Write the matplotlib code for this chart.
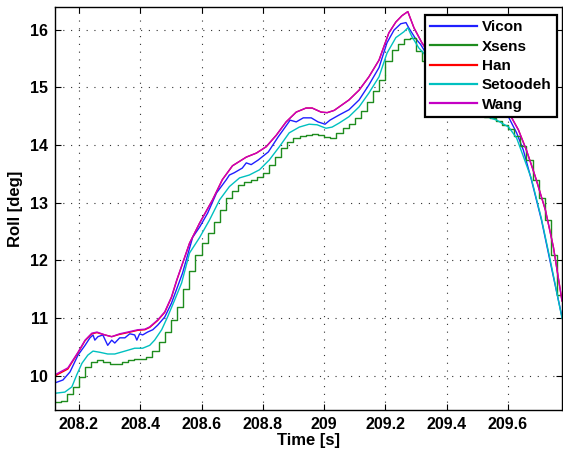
import matplotlib
matplotlib.use("Agg")
import matplotlib.pyplot as plt

plt.rcParams['font.family'] = ['Liberation Sans', 'DejaVu Sans']

# ---------------- data ----------------
han_t = [208.122, 208.164, 208.197, 208.220, 208.242, 208.259, 208.285, 208.307,
         208.333, 208.359, 208.392, 208.415, 208.431, 208.457, 208.480, 208.502,
         208.519, 208.561, 208.594, 208.636, 208.668, 208.701, 208.746, 208.779,
         208.811, 208.844, 208.876, 208.909, 208.941, 208.961, 208.990, 209.010,
         209.033, 209.049, 209.081, 209.114, 209.146, 209.179, 209.211, 209.234,
         209.254, 209.273, 209.293, 209.319, 209.360, 209.400, 209.450, 209.500,
         209.550, 209.611, 209.634, 209.660, 209.689, 209.722, 209.748, 209.776]
han_y = [10.00, 10.12, 10.40, 10.61, 10.73, 10.75, 10.71, 10.68,
         10.72, 10.75, 10.79, 10.80, 10.84, 10.96, 11.10, 11.36,
         11.65, 12.30, 12.65, 13.05, 13.40, 13.64, 13.79, 13.86,
         13.97, 14.17, 14.40, 14.57, 14.64, 14.64, 14.57, 14.56,
         14.60, 14.66, 14.78, 14.95, 15.18, 15.47, 15.94, 16.13,
         16.24, 16.31, 16.03, 15.77, 15.45, 15.15, 14.90, 14.70,
         14.60, 14.48, 14.26, 13.91, 13.45, 12.87, 12.23, 11.30]

wang_t = han_t
wang_y = [10.02, 10.14, 10.41, 10.62, 10.74, 10.76, 10.71, 10.68,
          10.73, 10.76, 10.80, 10.81, 10.85, 10.97, 11.11, 11.37,
          11.66, 12.30, 12.65, 13.05, 13.40, 13.64, 13.79, 13.86,
          13.97, 14.17, 14.40, 14.57, 14.64, 14.64, 14.57, 14.56,
          14.60, 14.66, 14.78, 14.95, 15.18, 15.47, 15.94, 16.13,
          16.24, 16.31, 16.03, 15.77, 15.45, 15.15, 14.90, 14.70,
          14.60, 14.48, 14.26, 13.91, 13.45, 12.87, 12.23, 11.30]

vicon_t = [208.122, 208.148, 208.171, 208.197, 208.220, 208.236, 208.246, 208.252,
           208.262, 208.278, 208.294, 208.307, 208.317, 208.333, 208.350, 208.366,
           208.382, 208.389, 208.398, 208.408, 208.424, 208.441, 208.457, 208.480,
           208.502, 208.538, 208.571, 208.594, 208.620, 208.649, 208.681, 208.691,
           208.707, 208.733, 208.746, 208.762, 208.785, 208.818, 208.850, 208.873,
           208.889, 208.909, 208.932, 208.958, 208.980, 209.003, 209.019, 209.049,
           209.081, 209.114, 209.146, 209.179, 209.205, 209.228, 209.250, 209.267,
           209.276, 209.296, 209.315, 209.360, 209.400, 209.450, 209.500, 209.550,
           209.602, 209.628, 209.650, 209.676, 209.709, 209.741, 209.776]
vicon_y = [9.88, 9.93, 10.07, 10.36, 10.53, 10.66, 10.71, 10.62,
           10.68, 10.71, 10.53, 10.62, 10.57, 10.66, 10.66, 10.73,
           10.71, 10.62, 10.73, 10.71, 10.76, 10.80, 10.88, 11.02,
           11.26, 11.78, 12.40, 12.58, 12.82, 13.17, 13.40, 13.48,
           13.52, 13.60, 13.69, 13.66, 13.74, 13.88, 14.14, 14.31,
           14.43, 14.40, 14.47, 14.47, 14.40, 14.36, 14.43, 14.52,
           14.61, 14.78, 15.04, 15.34, 15.77, 15.99, 16.10, 16.12,
           16.03, 15.86, 15.74, 15.35, 15.05, 14.80, 14.60, 14.52,
           14.48, 14.21, 13.91, 13.40, 12.70, 11.89, 11.02]

setoodeh_t = [208.122, 208.154, 208.177, 208.193, 208.210, 208.229, 208.246, 208.268,
              208.294, 208.317, 208.350, 208.382, 208.408, 208.431, 208.447, 208.470,
              208.489, 208.512, 208.535, 208.561, 208.594, 208.626, 208.659, 208.691,
              208.724, 208.756, 208.789, 208.821, 208.854, 208.886, 208.919, 208.951,
              208.977, 209.006, 209.026, 209.049, 209.081, 209.114, 209.146, 209.179,
              209.205, 209.234, 209.260, 209.273, 209.286, 209.309, 209.325, 209.360,
              209.400, 209.450, 209.500, 209.563, 209.602, 209.628, 209.650, 209.676,
              209.709, 209.741, 209.776]
setoodeh_y = [9.70, 9.72, 9.81, 10.02, 10.22, 10.36, 10.43, 10.41,
              10.38, 10.38, 10.43, 10.48, 10.48, 10.53, 10.62, 10.80,
              11.02, 11.31, 11.61, 12.13, 12.40, 12.70, 13.05, 13.28,
              13.43, 13.48, 13.57, 13.74, 13.97, 14.21, 14.31, 14.36,
              14.35, 14.29, 14.31, 14.38, 14.49, 14.66, 14.90, 15.18,
              15.59, 15.86, 15.96, 16.03, 15.88, 15.68, 15.59, 15.30,
              15.00, 14.75, 14.55, 14.43, 14.31, 14.12, 13.80, 13.42,
              12.72, 11.92, 11.00]

xsens_t = [208.12, 208.14, 208.16, 208.18, 208.20, 208.22, 208.24, 208.26, 208.28, 208.30,
           208.32, 208.34, 208.36, 208.38, 208.40, 208.42, 208.44, 208.46, 208.48, 208.50,
           208.52, 208.54, 208.56, 208.58, 208.60, 208.62, 208.64, 208.66, 208.68, 208.70,
           208.72, 208.74, 208.76, 208.78, 208.80, 208.82, 208.84, 208.86, 208.88, 208.90,
           208.92, 208.94, 208.96, 208.98, 209.00, 209.02, 209.04, 209.06, 209.08, 209.10,
           209.12, 209.14, 209.16, 209.18, 209.20, 209.22, 209.24, 209.26, 209.28, 209.30,
           209.32, 209.34, 209.36, 209.38, 209.40, 209.42, 209.44, 209.46, 209.48, 209.50,
           209.52, 209.54, 209.56, 209.58, 209.60, 209.62, 209.64, 209.66, 209.68, 209.70,
           209.72, 209.74, 209.76, 209.78]
xsens_y = [9.55, 9.57, 9.68, 9.80, 9.98, 10.15, 10.24, 10.27, 10.25, 10.21,
           10.21, 10.24, 10.27, 10.29, 10.30, 10.33, 10.43, 10.58, 10.76, 10.97,
           11.20, 11.50, 11.82, 12.10, 12.30, 12.47, 12.66, 12.88, 13.08, 13.21,
           13.30, 13.36, 13.40, 13.44, 13.52, 13.66, 13.80, 13.95, 14.06, 14.12,
           14.15, 14.18, 14.19, 14.18, 14.13, 14.12, 14.21, 14.29, 14.37, 14.47,
           14.59, 14.75, 14.93, 15.12, 15.45, 15.65, 15.75, 15.83, 15.85, 15.62,
           15.46, 15.30, 15.12, 14.95, 14.80, 14.70, 14.62, 14.57, 14.53, 14.50,
           14.48, 14.46, 14.41, 14.35, 14.28, 14.16, 13.98, 13.74, 13.40, 13.08,
           12.70, 12.10, 11.40, 11.00]

x_ticks = [208.2, 208.4, 208.6, 208.8, 209.0, 209.2, 209.4, 209.6]
x_tick_labels = ['208.2', '208.4', '208.6', '208.8', '209', '209.2', '209.4', '209.6']
y_ticks = [10, 11, 12, 13, 14, 15, 16]

# ---------------- figure ----------------
fig = plt.figure(figsize=(5.63, 4.53), dpi=100)
ax = fig.add_axes([55/563, 1 - 410/453, (562-55)/563, (410-7)/453])

lw = 1.0
ax.plot(vicon_t, vicon_y, color='#1f1fff', lw=lw, label='Vicon')
ax.step(xsens_t, xsens_y, where='post', color='#1e8c1e', lw=lw, label='Xsens')
ax.plot(han_t, han_y, color='#ff0000', lw=lw, label='Han')
ax.plot(setoodeh_t, setoodeh_y, color='#00c0c0', lw=lw, label='Setoodeh')
ax.plot(wang_t, wang_y, color='#c400c4', lw=lw, label='Wang')

ax.set_xlim(208.122, 209.776)
ax.set_ylim(9.41, 16.39)
ax.set_xticks(x_ticks)
ax.set_xticklabels(x_tick_labels)
ax.set_yticks(y_ticks)

for lbl in ax.get_xticklabels() + ax.get_yticklabels():
    lbl.set_fontweight('bold')
    lbl.set_fontsize(11.5)

ax.tick_params(direction='in', length=4, width=0.8, top=True, right=True,
               pad=5, colors='black')
ax.grid(True, color='#303030', linestyle=(0, (1, 6)), linewidth=0.8)
for s in ax.spines.values():
    s.set_linewidth(1.0)
    s.set_color('black')

ax.set_xlabel('Time [s]', fontsize=12, fontweight='bold', labelpad=1)
ax.set_ylabel('Roll [deg]', fontsize=12, fontweight='bold', labelpad=5)

leg = ax.legend(loc='upper right', bbox_to_anchor=(1 - 5/507, 1 - 8/403),
                prop={'weight': 'bold', 'size': 11},
                fancybox=False, framealpha=1, edgecolor='black',
                handlelength=3.1, handletextpad=0.3, borderpad=0.35,
                labelspacing=0.35, borderaxespad=0.0)
leg.get_frame().set_linewidth(1.6)
for line in leg.get_lines():
    line.set_linewidth(1.6)

fig.savefig('out.png', dpi=100)
